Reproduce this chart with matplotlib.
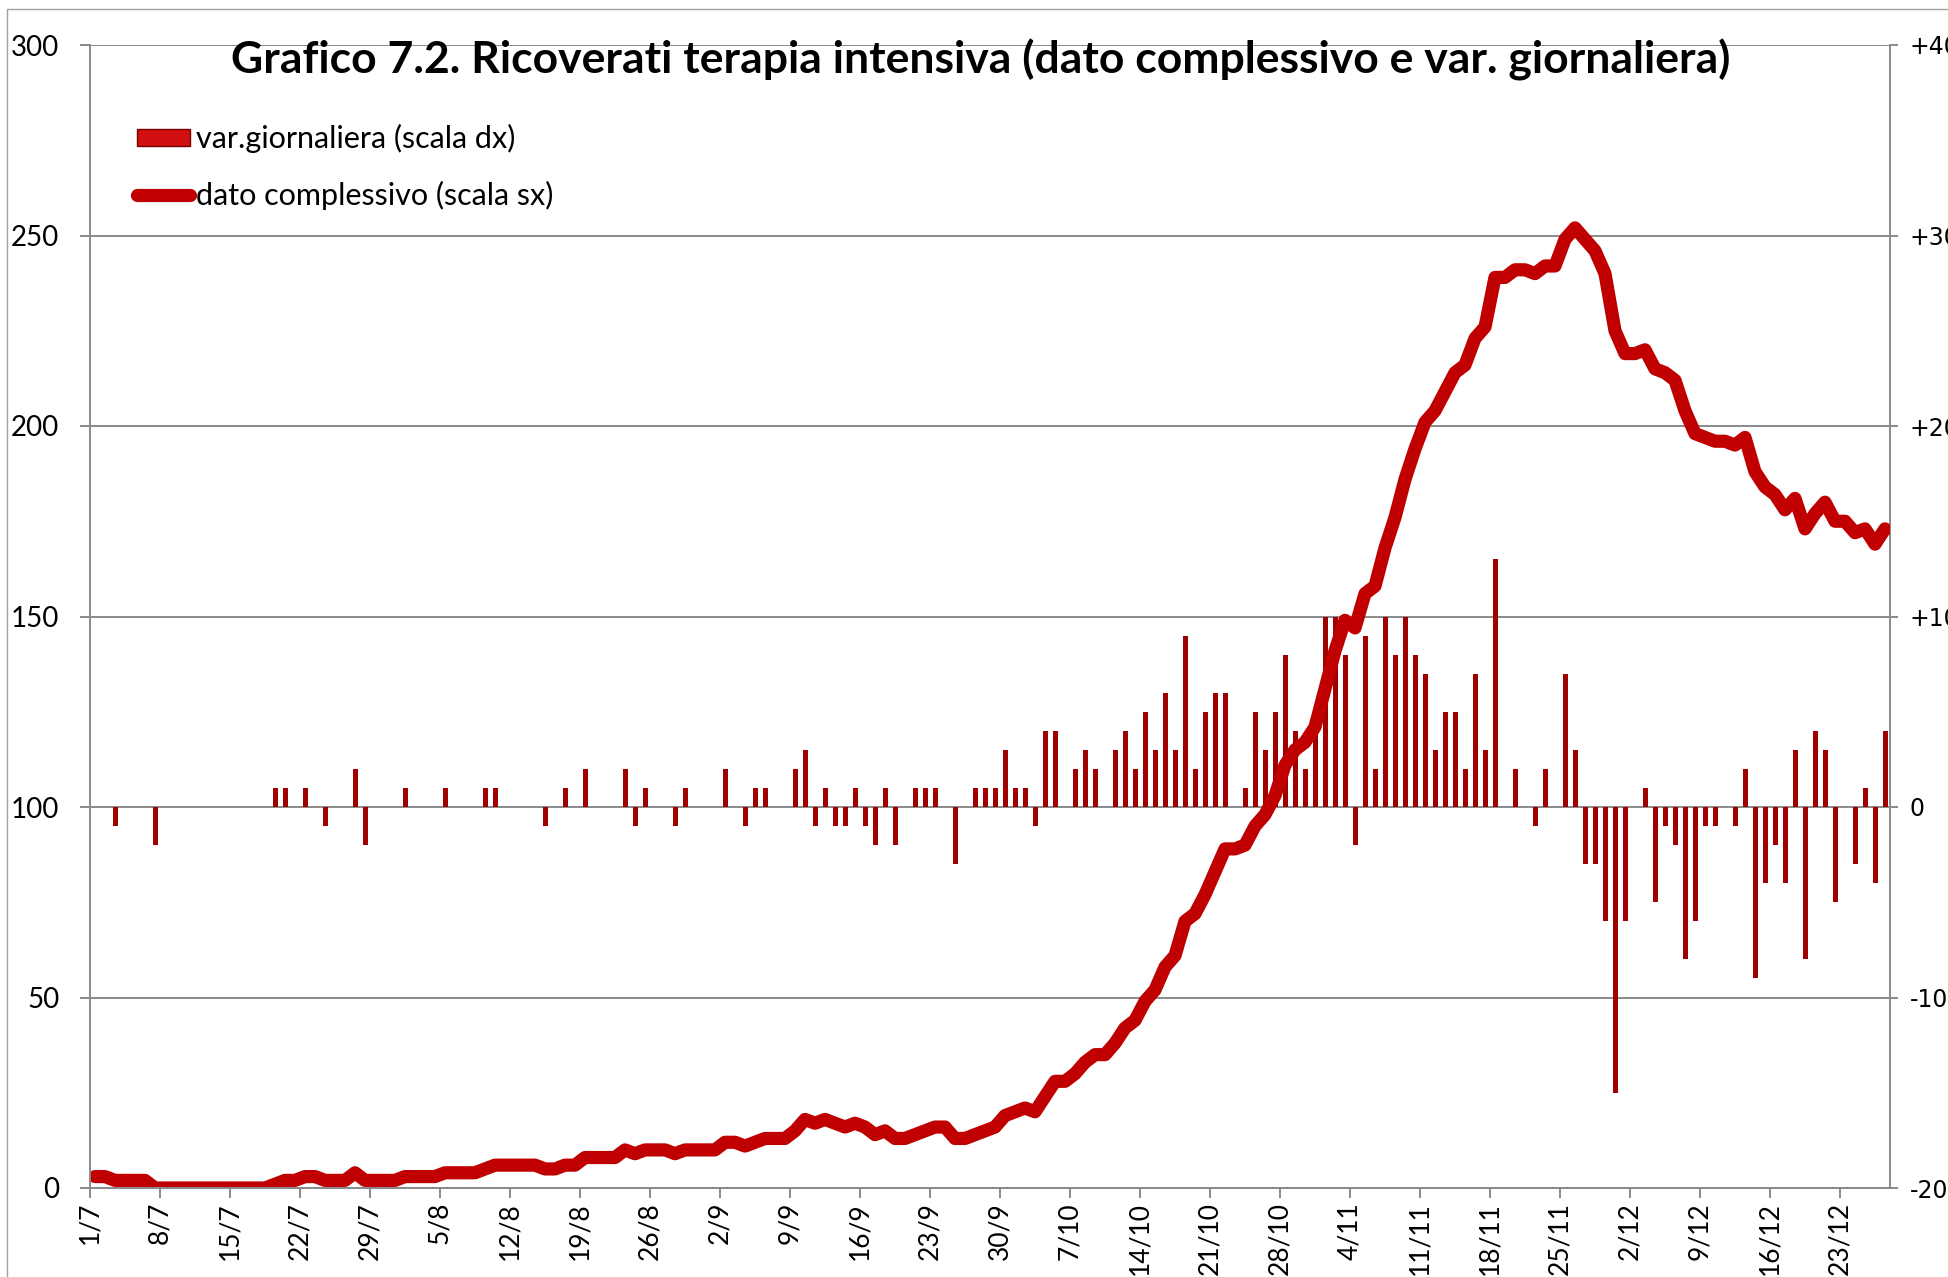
import numpy as np
import pandas as pd
import matplotlib
matplotlib.use('Agg')
import matplotlib.pyplot as plt
import matplotlib.dates as mdates
from matplotlib.patches import Patch, Rectangle
from matplotlib.lines import Line2D

plt.rcParams['font.family'] = ['Lato', 'DejaVu Sans']

# ── data (1/7 -> 27/12) ────────────────────────────────────────────────────────
START = '2020-07-01'

var_giornaliera = [
    0, 0, -1, 0, 0, 0, -2, 0, 0, 0,
    0, 0, 0, 0, 0, 0, 0, 0, 1, 1,
    0, 1, 0, -1, 0, 0, 2, -2, 0, 0,
    0, 1, 0, 0, 0, 1, 0, 0, 0, 1,
    1, 0, 0, 0, 0, -1, 0, 1, 0, 2,
    0, 0, 0, 2, -1, 1, 0, 0, -1, 1,
    0, 0, 0, 2, 0, -1, 1, 1, 0, 0,
    2, 3, -1, 1, -1, -1, 1, -1, -2, 1,
    -2, 0, 1, 1, 1, 0, -3, 0, 1, 1,
    1, 3, 1, 1, -1, 4, 4, 0, 2, 3,
    2, 0, 3, 4, 2, 5, 3, 6, 3, 9,
    2, 5, 6, 6, 0, 1, 5, 3, 5, 8,
    4, 2, 4, 10, 10, 8, -2, 9, 2, 10,
    8, 10, 8, 7, 3, 5, 5, 2, 7, 3,
    13, 0, 2, 0, -1, 2, 0, 7, 3, -3,
    -3, -6, -15, -6, 0, 1, -5, -1, -2, -8,
    -6, -1, -1, 0, -1, 2, -9, -4, -2, -4,
    3, -8, 4, 3, -5, 0, -3, 1, -4, 4,
]

dato_complessivo = [
    3, 3, 2, 2, 2, 2, 0, 0, 0, 0,
    0, 0, 0, 0, 0, 0, 0, 0, 1, 2,
    2, 3, 3, 2, 2, 2, 4, 2, 2, 2,
    2, 3, 3, 3, 3, 4, 4, 4, 4, 5,
    6, 6, 6, 6, 6, 5, 5, 6, 6, 8,
    8, 8, 8, 10, 9, 10, 10, 10, 9, 10,
    10, 10, 10, 12, 12, 11, 12, 13, 13, 13,
    15, 18, 17, 18, 17, 16, 17, 16, 14, 15,
    13, 13, 14, 15, 16, 16, 13, 13, 14, 15,
    16, 19, 20, 21, 20, 24, 28, 28, 30, 33,
    35, 35, 38, 42, 44, 49, 52, 58, 61, 70,
    72, 77, 83, 89, 89, 90, 95, 98, 103, 111,
    115, 117, 121, 131, 141, 149, 147, 156, 158, 168,
    176, 186, 194, 201, 204, 209, 214, 216, 223, 226,
    239, 239, 241, 241, 240, 242, 242, 249, 252, 249,
    246, 240, 225, 219, 219, 220, 215, 214, 212, 204,
    198, 197, 196, 196, 195, 197, 188, 184, 182, 178,
    181, 173, 177, 180, 175, 175, 172, 173, 169, 173,
]

LEFT_TICKS = [0, 50, 100, 150, 200, 250, 300]
RIGHT_TICKS = [-20, -10, 0, 10, 20, 30, 40]
RIGHT_LABELS = ['-20', '-10', '0', '+10', '+20', '+30', '+40']

TITLE = 'Grafico 7.2. Ricoverati terapia intensiva (dato complessivo e var. giornaliera)'
LBL_BAR = 'var.giornaliera (scala dx)'
LBL_LINE = 'dato complessivo (scala sx)'

RED_LINE = '#C00000'
RED_BAR = '#A00000'
GREY = '#8A8A8A'

days = pd.date_range(START, periods=len(dato_complessivo), freq='D')
x0 = mdates.date2num(days[0])
x = mdates.date2num(days) + 0.5          # each value sits in the middle of its day
tick_days = days[::7]
tick_labels = [f'{d.day}/{d.month}' for d in tick_days]

# ── figure ─────────────────────────────────────────────────────────────────────
fig = plt.figure(figsize=(19.48, 12.77), dpi=100)
ax = fig.add_axes([90 / 1948, 89 / 1277, 1800 / 1948, 1143 / 1277])
ax2 = ax.twinx()
ax.set_zorder(2)
ax2.set_zorder(1)
ax.patch.set_visible(False)

# bars on the right scale
ax2.bar(x, var_giornaliera, width=0.5, color=RED_BAR, linewidth=0)
ax2.set_ylim(-20, 40)
ax2.set_yticks(RIGHT_TICKS)
ax2.set_yticklabels(RIGHT_LABELS, fontfamily='DejaVu Sans', fontsize=17)
ax2.grid(axis='y', color=GREY, lw=1.4)
ax2.set_axisbelow(True)
ax2.tick_params(axis='y', direction='out', length=6, width=1.4, color=GREY, pad=8)

# line on the left scale
ax.plot(x, dato_complessivo, color=RED_LINE, lw=9.5,
        solid_joinstyle='round', solid_capstyle='round')
ax.set_ylim(0, 300)
ax.set_yticks(LEFT_TICKS)
ax.tick_params(axis='y', direction='out', length=7, width=1.4, color=GREY,
               labelsize=20, pad=15)
ax.set_xlim(x0, x0 + len(days))
ax.set_xticks(mdates.date2num(tick_days))
ax.set_xticklabels(tick_labels, rotation=90, fontsize=19)
ax.tick_params(axis='x', direction='out', length=7, width=1.4, color=GREY, pad=3)

for a in (ax, ax2):
    a.spines['top'].set_visible(False)
    for s in ('left', 'right', 'bottom'):
        a.spines[s].set_color(GREY)
        a.spines[s].set_linewidth(1.4)
ax.spines['right'].set_visible(False)
ax2.spines['left'].set_visible(False)

fig.text(0.5036, 0.953, TITLE, ha='center', va='center', fontsize=32, fontweight='bold')

handles = [Patch(facecolor='#D01010', edgecolor='#7a0000'),
           Line2D([], [], color=RED_LINE, lw=9.5, solid_capstyle='round')]
ax.legend(handles, [LBL_BAR, LBL_LINE], loc='upper left',
          bbox_to_anchor=(137 / 1948, 1 - 124 / 1277), bbox_transform=fig.transFigure,
          frameon=False, fontsize=22, handlelength=1.75, handleheight=0.5,
          handletextpad=0.18, labelspacing=0.9, borderpad=0, borderaxespad=0)

# thin frame around the chart area (only top and left edges are visible)
fig.patches.append(Rectangle((7 / 1948, -0.1), 1.2, 1.1 - 9 / 1277, transform=fig.transFigure,
                             fill=False, edgecolor='#A0A0A0', lw=1))

fig.savefig('out.png', dpi=100)
